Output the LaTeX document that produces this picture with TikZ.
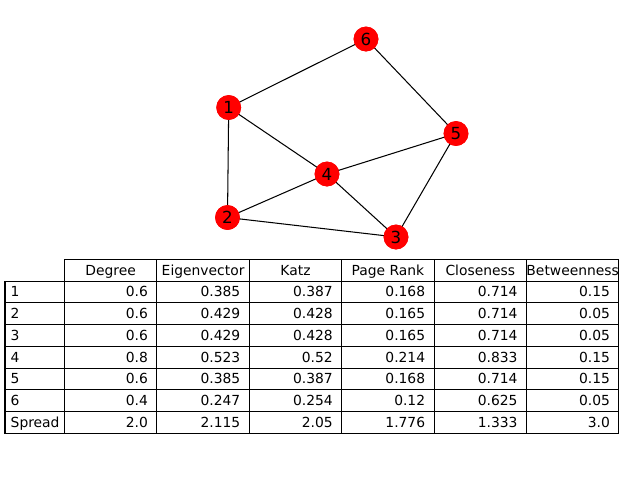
\documentclass[tikz,border=0pt]{standalone}
\usepackage{fontspec}
\setmainfont{DejaVu Sans}
\begin{document}
\begin{tikzpicture}[x=0.75pt,y=-0.75pt,
  vert/.style={circle, fill=red, minimum size=18.6pt, inner sep=0pt, font=\fontsize{12.5}{13}\selectfont},
  edge/.style={line width=0.78pt, black},
  cell/.style={draw, line width=0.8pt, minimum width=69.3pt, minimum height=16.31pt, inner sep=0pt, font=\fontsize{10.4}{12}\selectfont, text height=0.73em, text depth=0pt},
  lcell/.style={cell, minimum width=44.6pt},
  txt/.style={inner sep=0pt, font=\fontsize{10.4}{12}\selectfont, text height=0.73em, text depth=0pt}]
\useasboundingbox (0,0) rectangle (640,480);
% graph
\node[vert] (n6) at (366,39) {6};
\node[vert] (n1) at (228.7,107.5) {1};
\node[vert] (n5) at (456,133.5) {5};
\node[vert] (n4) at (327,174) {4};
\node[vert] (n2) at (227.5,217.5) {2};
\node[vert] (n3) at (396,237) {3};
\draw[edge] (n1.center) -- (n6.center);
\draw[edge] (n1.center) -- (n4.center);
\draw[edge] (n1.center) -- (n2.center);
\draw[edge] (n6.center) -- (n5.center);
\draw[edge] (n5.center) -- (n4.center);
\draw[edge] (n5.center) -- (n3.center);
\draw[edge] (n4.center) -- (n2.center);
\draw[edge] (n4.center) -- (n3.center);
\draw[edge] (n2.center) -- (n3.center);
\node[vert] at (n6) {6};
\node[vert] at (n1) {1};
\node[vert] at (n5) {5};
\node[vert] at (n4) {4};
\node[vert] at (n2) {2};
\node[vert] at (n3) {3};
% table header
\foreach \h [count=\ca] in {Degree,Eigenvector,Katz,Page Rank,Closeness,Betweenness}{
  \node[cell] (h-\ca) at ({110.7+(\ca-1)*92.4},270.2) {\h};
}
% table body
\foreach \lab/\va/\vb/\vc/\vd/\ve/\vf [count=\r] in {
  1/0.6/0.385/0.387/0.168/0.714/0.15,
  2/0.6/0.429/0.428/0.165/0.714/0.05,
  3/0.6/0.429/0.428/0.165/0.714/0.05,
  4/0.8/0.523/0.52/0.214/0.833/0.15,
  5/0.6/0.385/0.387/0.168/0.714/0.15,
  6/0.4/0.247/0.254/0.12/0.625/0.05,
  Spread/2.0/2.115/2.05/1.776/1.333/3.0}{
  \node[lcell] (l-\r) at (34.75,{270.2+\r*21.75}) {};
  \node[txt, anchor=west] (lt-\r) at ([xshift=4.46pt]l-\r.west) {\lab};
  \foreach \v [count=\ca] in {\va,\vb,\vc,\vd,\ve,\vf}{
    \node[cell] (c-\r-\ca) at ({110.7+(\ca-1)*92.4},{270.2+\r*21.75}) {};
    \node[txt, anchor=east] (t-\r-\ca) at ([xshift=-6.93pt]c-\r-\ca.east) {\v};
  }
}
\end{tikzpicture}
\end{document}
